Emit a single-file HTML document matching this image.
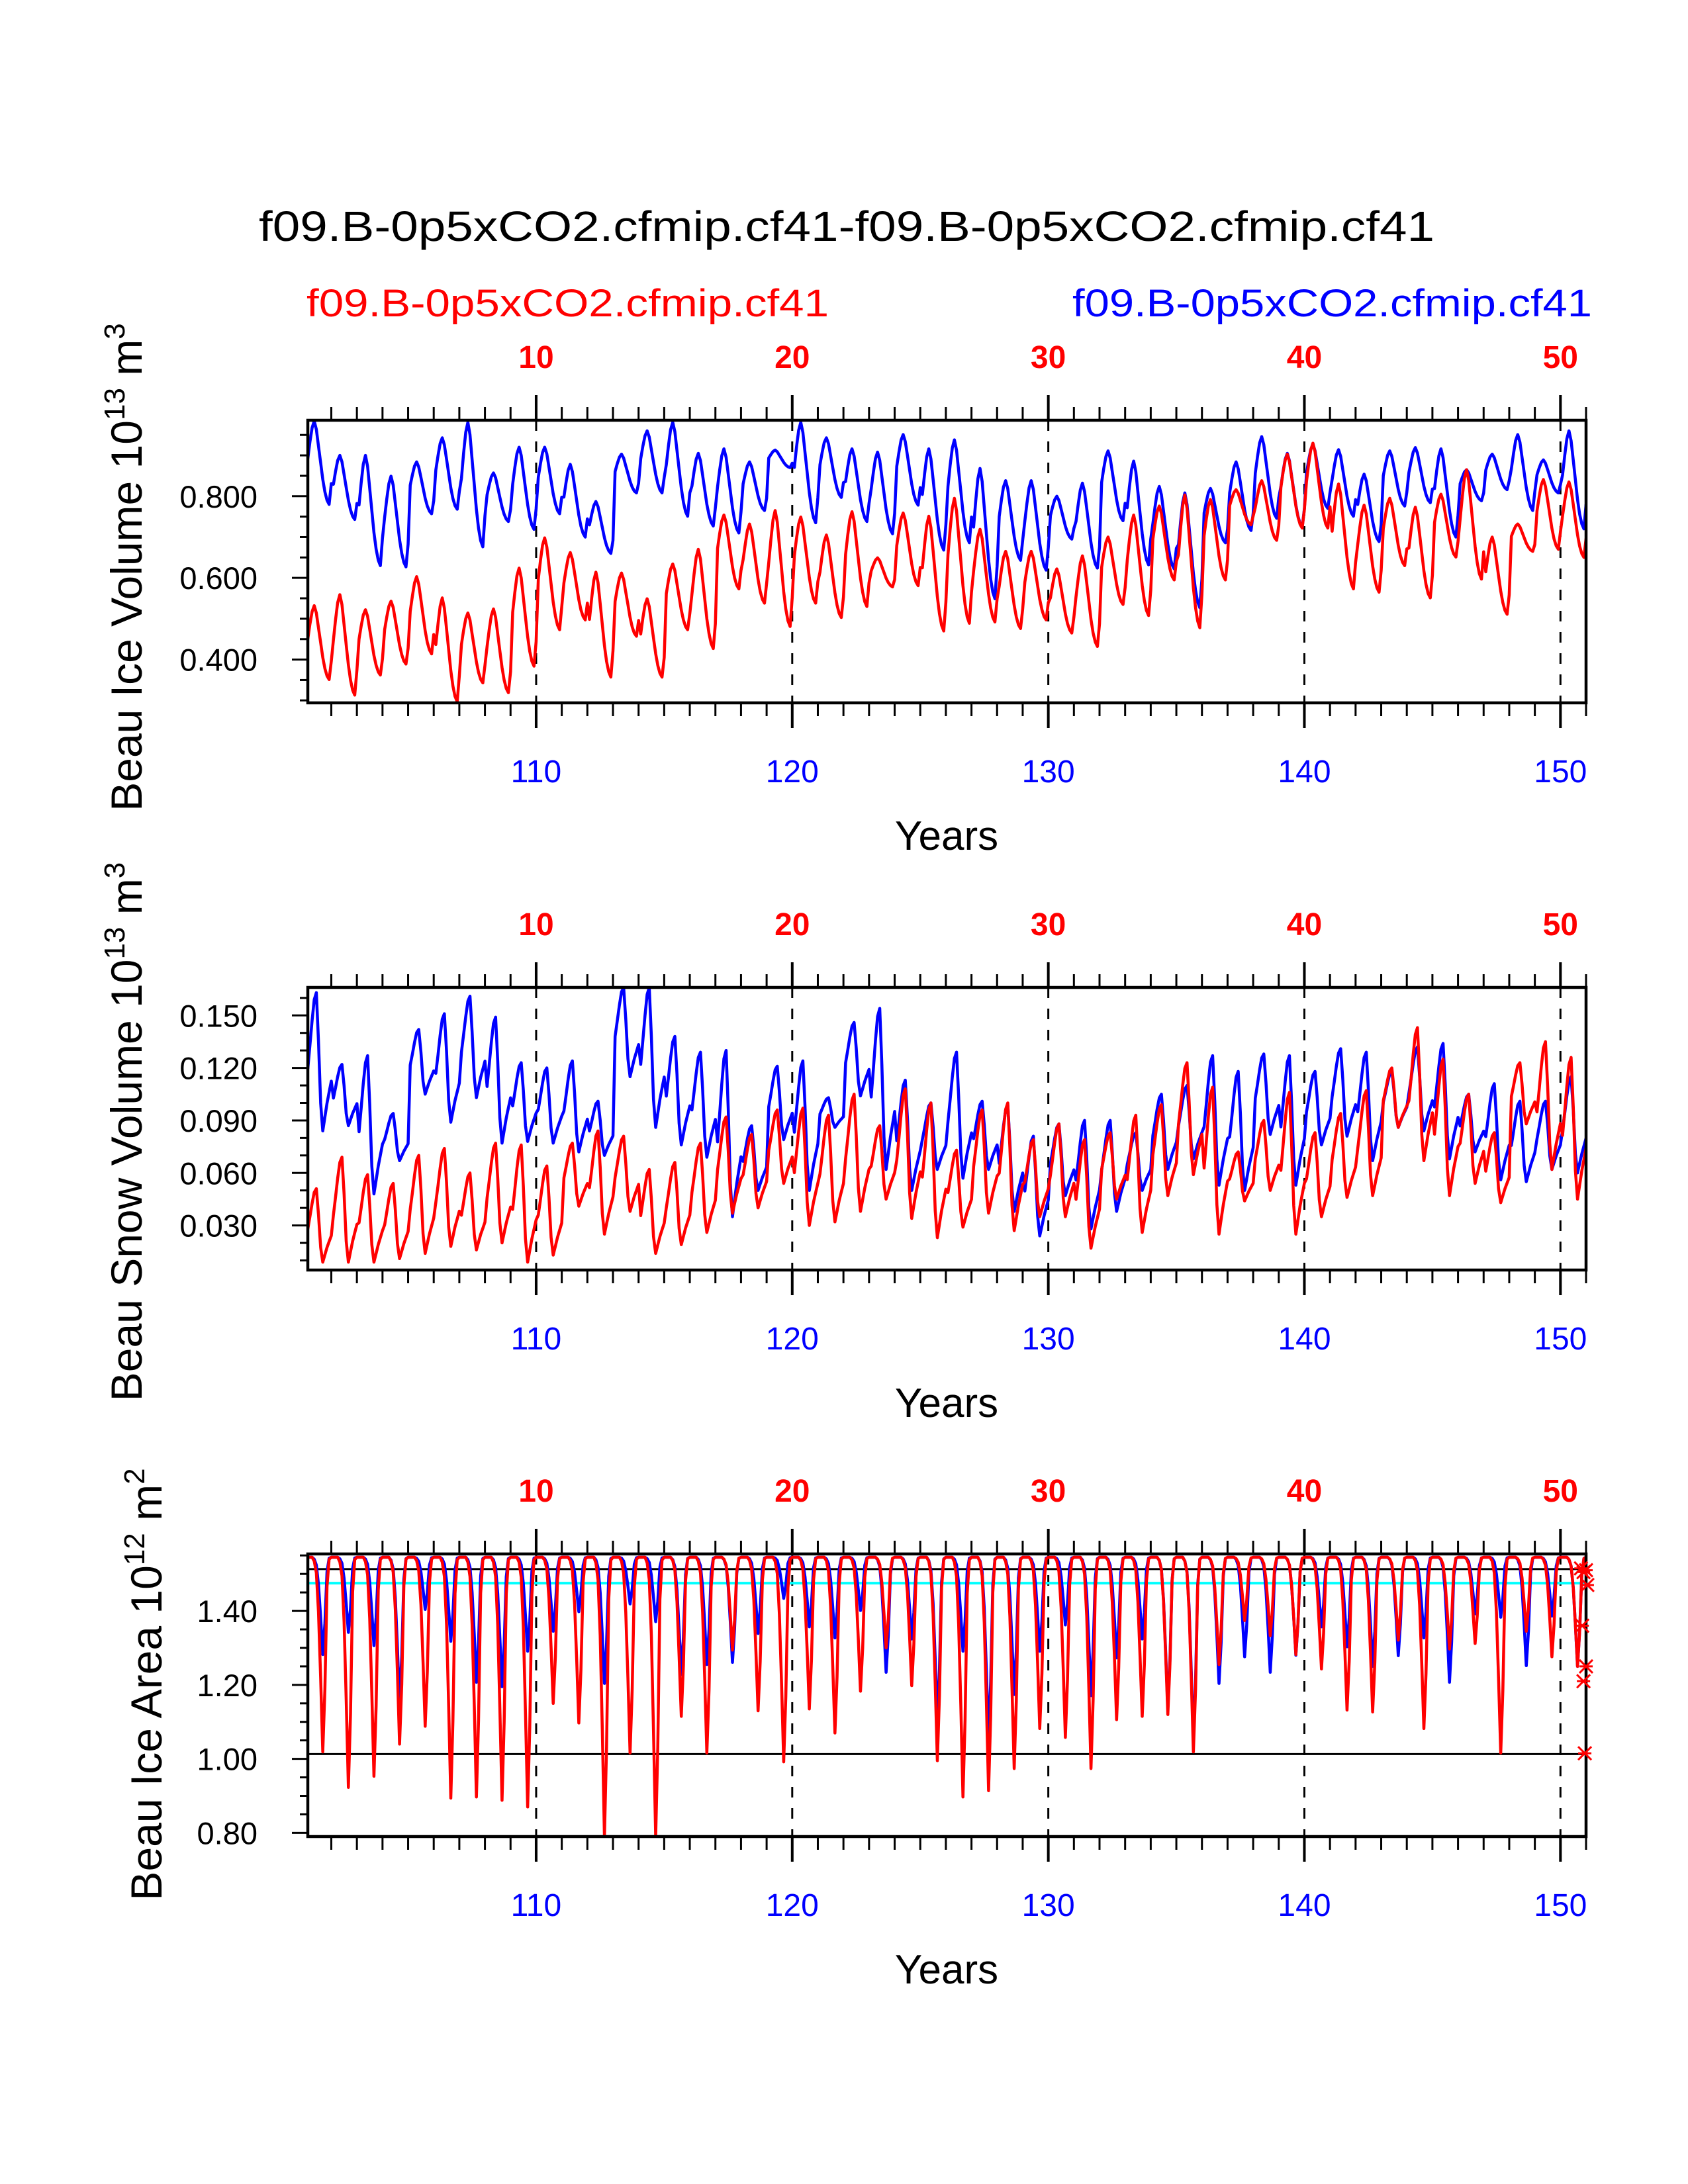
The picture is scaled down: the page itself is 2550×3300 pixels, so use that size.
<!DOCTYPE html>
<html><head><meta charset="utf-8"><title>Beau sea ice</title>
<style>html,body{margin:0;padding:0;background:#fff}svg{display:block}</style></head>
<body>
<svg id="chart" xmlns="http://www.w3.org/2000/svg" width="2550" height="3300" viewBox="0 0 2550 3300" font-family="Liberation Sans, sans-serif">
<rect width="2550" height="3300" fill="#fff"/>
<text x="1279" y="364" font-size="64" text-anchor="middle" textLength="1776" lengthAdjust="spacingAndGlyphs">f09.B-0p5xCO2.cfmip.cf41-f09.B-0p5xCO2.cfmip.cf41</text>
<text x="463" y="478" font-size="58" fill="#ff0000" textLength="789" lengthAdjust="spacingAndGlyphs">f09.B-0p5xCO2.cfmip.cf41</text>
<text x="1620" y="478" font-size="58" fill="#0000ff" textLength="785" lengthAdjust="spacingAndGlyphs">f09.B-0p5xCO2.cfmip.cf41</text>
</svg>
<script>
// ---- data (annual extremes, years 101..150) ----
const years = [101,102,103,104,105,106,107,108,109,110,111,112,113,114,115,116,117,118,119,120,121,122,123,124,125,126,127,128,129,130,131,132,133,134,135,136,137,138,139,140,141,142,143,144,145,146,147,148,149,150];
const volBlueMax = [0.984,0.90,0.90,0.849,0.884,0.943,0.981,0.857,0.92,0.92,0.878,0.787,0.903,0.96,0.981,0.905,0.916,0.884,0.913,0.981,0.943,0.916,0.908,0.951,0.916,0.938,0.868,0.838,0.838,0.80,0.832,0.911,0.886,0.824,0.808,0.819,0.884,0.946,0.905,0.927,0.914,0.854,0.911,0.919,0.916,0.865,0.903,0.951,0.889,0.96];
const volBlueMin = [0.78,0.743,0.63,0.627,0.757,0.768,0.676,0.738,0.719,0.757,0.70,0.66,0.808,0.808,0.751,0.727,0.71,0.765,0.87,0.735,0.797,0.738,0.708,0.778,0.668,0.686,0.549,0.643,0.619,0.695,0.624,0.74,0.632,0.622,0.527,0.686,0.716,0.746,0.724,0.77,0.751,0.689,0.776,0.784,0.70,0.789,0.816,0.765,0.808,0.72];
const volRedMax = [0.532,0.559,0.522,0.543,0.603,0.551,0.514,0.524,0.624,0.698,0.662,0.614,0.612,0.549,0.634,0.670,0.754,0.732,0.765,0.749,0.705,0.762,0.649,0.759,0.751,0.795,0.719,0.665,0.665,0.622,0.654,0.70,0.754,0.776,0.803,0.792,0.816,0.838,0.903,0.93,0.83,0.778,0.795,0.773,0.805,0.865,0.70,0.732,0.841,0.835];
const volRedMin = [0.351,0.313,0.362,0.389,0.414,0.297,0.343,0.319,0.384,0.473,0.497,0.357,0.457,0.357,0.473,0.427,0.573,0.538,0.481,0.538,0.503,0.53,0.578,0.581,0.47,0.489,0.492,0.476,0.497,0.465,0.432,0.535,0.508,0.595,0.478,0.595,0.73,0.692,0.722,0.722,0.573,0.565,0.63,0.551,0.651,0.597,0.511,0.665,0.67,0.65];
const snowBlueMax = [0.163,0.122,0.127,0.094,0.142,0.151,0.161,0.149,0.123,0.120,0.124,0.101,0.166,0.166,0.138,0.129,0.13,0.087,0.121,0.124,0.103,0.146,0.154,0.113,0.10,0.129,0.101,0.099,0.081,0.088,0.09,0.09,0.083,0.105,0.11,0.127,0.118,0.128,0.127,0.118,0.131,0.129,0.118,0.132,0.134,0.105,0.111,0.101,0.101,0.115];
const snowBlueMin = [0.084,0.087,0.048,0.067,0.105,0.089,0.103,0.077,0.078,0.077,0.072,0.07,0.115,0.086,0.076,0.069,0.035,0.05,0.079,0.05,0.086,0.104,0.062,0.05,0.062,0.057,0.062,0.038,0.024,0.047,0.028,0.038,0.05,0.062,0.068,0.053,0.05,0.082,0.053,0.076,0.081,0.067,0.086,0.084,0.068,0.072,0.056,0.055,0.062,0.06];
const snowRedMax = [0.051,0.069,0.059,0.054,0.07,0.074,0.06,0.077,0.076,0.064,0.077,0.084,0.081,0.062,0.066,0.077,0.092,0.082,0.096,0.097,0.093,0.105,0.087,0.108,0.10,0.073,0.096,0.10,0.079,0.088,0.079,0.083,0.093,0.099,0.123,0.109,0.072,0.09,0.106,0.083,0.094,0.107,0.12,0.143,0.125,0.105,0.083,0.123,0.135,0.126];
const snowRedMin = [0.009,0.009,0.009,0.011,0.014,0.018,0.016,0.02,0.009,0.013,0.041,0.025,0.038,0.014,0.019,0.026,0.037,0.04,0.054,0.03,0.032,0.038,0.045,0.034,0.023,0.029,0.037,0.027,0.035,0.035,0.017,0.045,0.026,0.047,0.059,0.025,0.044,0.05,0.025,0.035,0.046,0.047,0.086,0.067,0.047,0.054,0.043,0.088,0.062,0.045];
const areaMaxValue = 1.545;
const areaBlueMin = [1.282,1.342,1.306,1.15,1.404,1.318,1.207,1.195,1.291,1.345,1.398,1.204,1.419,1.371,1.228,1.255,1.261,1.339,1.434,1.357,1.327,1.401,1.234,1.324,1.10,1.291,1.05,1.174,1.291,1.362,1.171,1.273,1.324,1.135,1.05,1.204,1.276,1.234,1.28,1.357,1.303,1.25,1.279,1.327,1.207,1.392,1.383,1.252,1.386,1.25];
const areaRedMin = [1.019,0.923,0.953,1.04,1.088,0.894,0.897,0.888,0.87,1.15,1.097,0.79,1.016,0.79,1.115,1.016,1.294,1.13,0.992,1.135,1.07,1.183,1.30,1.198,0.995,0.897,0.914,0.974,1.082,1.058,0.974,1.106,1.115,1.12,1.019,1.255,1.374,1.333,1.282,1.243,1.132,1.127,1.321,1.082,1.297,1.312,1.016,1.345,1.276,1.25];
// seasonal shape (fraction of annual range, months 1..12)
const volSeason = [0.55,0.75,0.92,1.0,0.9,0.7,0.5,0.3,0.15,0.05,0.0,0.25];
const snowSeason = [0.45,0.62,0.8,0.95,1.0,0.65,0.2,0.0,0.1,0.2,0.28,0.36];
const areaSeason = [1,1,1,0.98,0.92,0.72,0.38,0.0,0.32,0.85,0.99,1];
const areaRefLines = [1.513, 1.013];
const areaCyanLine = [1.475];
const markerVals = [1.515,1.51,1.505,1.47,1.36,1.25,1.21,1.015];
const markerYears = [150.8,151.0,150.9,151.05,150.85,151.0,150.9,150.95];
const topTickLabels = ["10","20","30","40","50"];
const bottomTickLabels = ["110","120","130","140","150"];
const decadeYears = [110,120,130,140,150];
const ytick1 = ["0.400","0.600","0.800"], yval1 = [0.4,0.6,0.8];
const ytick2 = ["0.030","0.060","0.090","0.120","0.150"], yval2 = [0.03,0.06,0.09,0.12,0.15];
const ytick3 = ["0.80","1.00","1.20","1.40"], yval3 = [0.8,1.0,1.2,1.4];

const NS = "http://www.w3.org/2000/svg";
const svg = document.getElementById('chart');
function mk(tag, attrs, parent) {
  const e = document.createElementNS(NS, tag);
  for (const k in attrs) e.setAttribute(k, attrs[k]);
  (parent || svg).appendChild(e);
  return e;
}
const X0 = 465, X1 = 2396, YR0 = 101.083, YR1 = 151.0;
function xs(yr) { return X0 + (yr - YR0) / (YR1 - YR0) * (X1 - X0); }

function monthly(mx, mn, season) {
  const pts = [];
  for (let i = 0; i < years.length; i++) {
    const hi = Array.isArray(mx) ? mx[i] : mx;
    for (let m = 1; m <= 12; m++) {
      pts.push([years[i] + m / 12, mn[i] + season[m - 1] * (hi - mn[i])]);
    }
  }
  return pts;
}

function panel(cfg) {
  const g = mk('g', {});
  
  
  const top = cfg.top, bot = cfg.top + 427;
  const ys = v => bot - (v - cfg.ymin) / (cfg.ymax - cfg.ymin) * (bot - top);
  const cid = 'clip-' + cfg.name;
  const cp = mk('clipPath', { id: cid }, g);
  mk('rect', { x: X0, y: top, width: X1 - X0, height: bot - top }, cp);
  decadeYears.forEach(d => {
    const l = mk('line', { x1: xs(d), x2: xs(d), y1: top, y2: bot, stroke: '#000', 'stroke-width': 3, 'stroke-dasharray': '16 16' }, g);
    
    
  });
  if (cfg.refLines) {
    cfg.refLines.forEach(v => {
      const l = mk('line', { x1: X0, x2: X1, y1: ys(v), y2: ys(v), stroke: '#000', 'stroke-width': 3 }, g);
      
      
    });
    cfg.cyan.forEach(v => {
      const l = mk('line', { x1: X0, x2: X1, y1: ys(v), y2: ys(v), stroke: '#00ffff', 'stroke-width': 4 }, g);
      
      
    });
  }
  cfg.series.forEach(s => {
    const d = s.pts.map((p, i) => (i ? 'L' : 'M') + xs(p[0]).toFixed(1) + ' ' + ys(p[1]).toFixed(1)).join('');
    const p = mk('path', { d: d, fill: 'none', stroke: s.color, 'stroke-width': 4.5, 'stroke-linejoin': 'round', 'clip-path': 'url(#' + cid + ')' }, g);
    
    
  });
  const box = mk('rect', { x: X0, y: top, width: X1 - X0, height: bot - top, fill: 'none', stroke: '#000', 'stroke-width': 4.5 }, g);
  
  
  for (let yr = 102; yr <= 151; yr++) {
    if (xs(yr) > X1 + 1) continue;
    const major = yr % 10 === 0, len = major ? 38 : 20;
    mk('line', { x1: xs(yr), x2: xs(yr), y1: top, y2: top - len, stroke: '#000', 'stroke-width': major ? 4 : 3 }, g);
    mk('line', { x1: xs(yr), x2: xs(yr), y1: bot, y2: bot + len, stroke: '#000', 'stroke-width': major ? 4 : 3 }, g);
  }
  decadeYears.forEach((d, i) => {
    const t1 = mk('text', { x: xs(d), y: top - 79, 'font-size': 48, 'font-weight': 'bold', fill: '#ff0000', 'text-anchor': 'middle' }, g);
    t1.textContent = topTickLabels[i];
    
    
    const t2 = mk('text', { x: xs(d), y: bot + 120, 'font-size': 48, fill: '#0000ff', 'text-anchor': 'middle' }, g);
    t2.textContent = bottomTickLabels[i];
    
    
  });
  for (let v = cfg.minorStart; v <= cfg.ymax + 1e-9; v += cfg.minorStep) {
    const isMaj = cfg.yvals.some(q => Math.abs(q - v) < 1e-6);
    mk('line', { x1: X0, x2: X0 - (isMaj ? 24 : 12), y1: ys(v), y2: ys(v), stroke: '#000', 'stroke-width': 3 }, g);
  }
  cfg.yvals.forEach((v, i) => {
    const t = mk('text', { x: 389, y: ys(v) + 17, 'font-size': 47, 'text-anchor': 'end' }, g);
    t.textContent = cfg.ylabels[i];
    
    
  });
  const xt = mk('text', { x: 1430, y: bot + 222, 'font-size': 62, 'text-anchor': 'middle' }, g);
  xt.textContent = 'Years';
  
  
  const yt = mk('text', { transform: 'translate(' + cfg.ytx + ',' + (top + cfg.ytoff) + ') rotate(-90)', 'font-size': 66, 'text-anchor': 'middle' }, g);
  
  
  yt.innerHTML = cfg.ytitle;
  return { g, ys };
}

panel({ name: 'ice-volume-panel', top: 635, ymin: 0.294, ymax: 0.986, minorStart: 0.30, minorStep: 0.05,
  yvals: yval1, ylabels: ytick1, ytx: 214, ytoff: 222,
  ytitle: 'Beau Ice Volume 10<tspan font-size="44" dy="-26">13</tspan><tspan dy="26"> m</tspan><tspan font-size="44" dy="-26">3</tspan>',
  series: [{ name: 'blue-ice-volume-line', color: '#0000ff', pts: monthly(volBlueMax, volBlueMin, volSeason) },
           { name: 'red-ice-volume-line', color: '#ff0000', pts: monthly(volRedMax, volRedMin, volSeason) }] });
panel({ name: 'snow-volume-panel', top: 1492, ymin: 0.0045, ymax: 0.166, minorStart: 0.01, minorStep: 0.01,
  yvals: yval2, ylabels: ytick2, ytx: 214, ytoff: 218,
  ytitle: 'Beau Snow Volume 10<tspan font-size="44" dy="-26">13</tspan><tspan dy="26"> m</tspan><tspan font-size="44" dy="-26">3</tspan>',
  series: [{ name: 'blue-snow-volume-line', color: '#0000ff', pts: monthly(snowBlueMax, snowBlueMin, snowSeason) },
           { name: 'red-snow-volume-line', color: '#ff0000', pts: monthly(snowRedMax, snowRedMin, snowSeason) }] });
const p3 = panel({ name: 'ice-area-panel', top: 2348, ymin: 0.79, ymax: 1.554, minorStart: 0.80, minorStep: 0.05,
  yvals: yval3, ylabels: ytick3, ytx: 244, ytoff: 197, refLines: areaRefLines, cyan: areaCyanLine,
  ytitle: 'Beau Ice Area 10<tspan font-size="44" dy="-26">12</tspan><tspan dy="26"> m</tspan><tspan font-size="44" dy="-26">2</tspan>',
  series: [{ name: 'blue-ice-area-line', color: '#0000ff', pts: monthly(areaMaxValue, areaBlueMin, areaSeason) },
           { name: 'red-ice-area-line', color: '#ff0000', pts: monthly(areaMaxValue, areaRedMin, areaSeason) }] });
markerVals.forEach((v, i) => {
  const cx = xs(markerYears[i]), cy = p3.ys(v), r = 10;
  const m = mk('path', { d: `M${cx-r} ${cy-r}L${cx+r} ${cy+r}M${cx-r} ${cy+r}L${cx+r} ${cy-r}M${cx-r} ${cy}L${cx+r} ${cy}`, stroke: '#ff0000', 'stroke-width': 3, fill: 'none' }, p3.g);
  
  
});
</script>
</body></html>
